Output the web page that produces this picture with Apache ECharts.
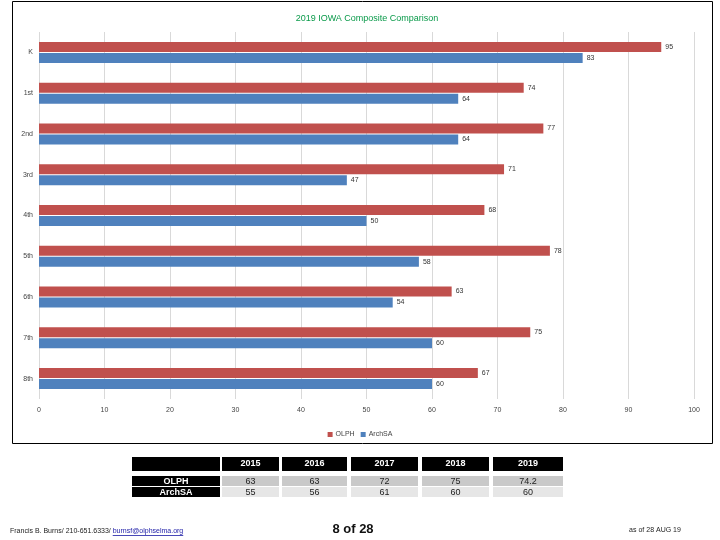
<!DOCTYPE html>
<html>
<head>
<meta charset="utf-8">
<script src="https://cdn.jsdelivr.net/npm/echarts@6/dist/echarts.min.js"></script>
<style>
html,body{margin:0;padding:0;background:#fff;}
#chart{width:720px;height:540px;}
</style>
</head>
<body>
<div id="chart"></div>
<script>
var categories = ['K', '1st', '2nd', '3rd', '4th', '5th', '6th', '7th', '8th'];
var olph = [95, 74, 77, 71, 68, 78, 63, 75, 67];
var archsa = [83, 64, 64, 47, 50, 58, 54, 60, 60];
var xTicks = [0, 10, 20, 30, 40, 50, 60, 70, 80, 90, 100];

var tableYears = ['2015', '2016', '2017', '2018', '2019'];
var tableOlph = ['63', '63', '72', '75', '74.2'];
var tableArch = ['55', '56', '61', '60', '60'];

var FONT = '"Liberation Sans", "DejaVu Sans", sans-serif';
var RED = '#c0504d', BLUE = '#4f81bd';

var chart = echarts.init(document.getElementById('chart'), null, {renderer: 'canvas'});

function textW(t, font) {
  var c = document.createElement('canvas').getContext('2d');
  c.font = font;
  return c.measureText(t).width;
}

var g = [];
g.push({type: 'rect', shape: {x: 12.5, y: 1.5, width: 700, height: 442}, style: {fill: 'none', stroke: '#000', lineWidth: 1}, z: 0});
var colX = [222, 282, 351, 422, 493];
var colW = [57, 65, 67, 67, 70];
g.push({type: 'rect', shape: {x: 132, y: 457, width: 88, height: 14}, style: {fill: '#000'}});
for (var i = 0; i < tableYears.length; i++) {
  g.push({type: 'rect', shape: {x: colX[i], y: 457, width: colW[i], height: 14}, style: {fill: '#000'}});
  g.push({type: 'text', x: colX[i] + colW[i] / 2, y: 464, style: {text: tableYears[i], fill: '#fff', font: 'bold 9px ' + FONT, align: 'center', verticalAlign: 'middle'}});
  g.push({type: 'rect', shape: {x: colX[i], y: 476, width: colW[i], height: 10}, style: {fill: '#c9c9c9'}});
  g.push({type: 'text', x: colX[i] + colW[i] / 2, y: 481.5, style: {text: tableOlph[i], fill: '#222', font: '9px ' + FONT, align: 'center', verticalAlign: 'middle'}});
  g.push({type: 'rect', shape: {x: colX[i], y: 487, width: colW[i], height: 10}, style: {fill: '#e6e6e6'}});
  g.push({type: 'text', x: colX[i] + colW[i] / 2, y: 492.5, style: {text: tableArch[i], fill: '#222', font: '9px ' + FONT, align: 'center', verticalAlign: 'middle'}});
}
g.push({type: 'rect', shape: {x: 132, y: 476, width: 88, height: 10}, style: {fill: '#000'}});
g.push({type: 'text', x: 176, y: 481.5, style: {text: 'OLPH', fill: '#fff', font: 'bold 9px ' + FONT, align: 'center', verticalAlign: 'middle'}});
g.push({type: 'rect', shape: {x: 132, y: 487, width: 88, height: 10}, style: {fill: '#000'}});
g.push({type: 'text', x: 176, y: 492.5, style: {text: 'ArchSA', fill: '#fff', font: 'bold 9px ' + FONT, align: 'center', verticalAlign: 'middle'}});

// footer
var footFont = '7px ' + FONT;
var part1 = 'Francis B. Burns/ 210-651.6333/ ';
var email = 'burnsf@olphselma.org';
var w1 = textW(part1, footFont);
var w2 = textW(email, footFont);
g.push({type: 'text', x: 10, y: 531, style: {text: part1, fill: '#222', font: footFont, align: 'left', verticalAlign: 'middle'}});
g.push({type: 'text', x: 10 + w1, y: 531, style: {text: email, fill: '#1a1aa6', font: footFont, align: 'left', verticalAlign: 'middle'}});
g.push({type: 'line', shape: {x1: 10 + w1, y1: 535.5, x2: 10 + w1 + w2, y2: 535.5}, style: {stroke: '#1a1aa6', lineWidth: 0.8}});
g.push({type: 'text', x: 353, y: 529, style: {text: '8 of 28', fill: '#111', font: 'bold 13px "Liberation Sans Narrow", ' + FONT, align: 'center', verticalAlign: 'middle'}});
g.push({type: 'text', x: 655, y: 530, style: {text: 'as of 28 AUG 19', fill: '#222', font: '7px ' + FONT, align: 'center', verticalAlign: 'middle'}});

var labelStyle = {show: true, position: 'right', distance: 4, color: '#333', fontSize: 7, fontFamily: FONT};

chart.setOption({
  animation: false,
  title: {
    text: '2019 IOWA Composite Comparison',
    left: 362, top: 9, textAlign: 'center',
    textStyle: {color: '#0a9a4a', fontSize: 9, fontWeight: 'normal', fontFamily: FONT}
  },
  legend: {
    data: ['OLPH', 'ArchSA'],
    left: 'center', top: 426,
    itemWidth: 5, itemHeight: 5, itemGap: 6,
    icon: 'rect',
    textStyle: {color: '#444', fontSize: 7, fontFamily: FONT, padding: [0, 0, 0, -2]}
  },
  grid: {left: 39, right: 26, top: 32, bottom: 141, containLabel: false},
  xAxis: {
    type: 'value', min: 0, max: 100, interval: 10,
    axisLine: {show: false}, axisTick: {show: false},
    splitLine: {show: true, lineStyle: {color: '#d9d9d9', width: 1}},
    axisLabel: {color: '#444', fontSize: 7, fontFamily: FONT, margin: 8,
      formatter: function (v) { return xTicks.indexOf(v) >= 0 ? String(v) : ''; }}
  },
  yAxis: {
    type: 'category', data: categories, inverse: true,
    axisLine: {show: false}, axisTick: {show: false},
    axisLabel: {color: '#444', fontSize: 7, fontFamily: FONT, margin: 6}
  },
  series: [
    {name: 'OLPH', type: 'bar', data: olph, itemStyle: {color: RED}, barWidth: 10, barGap: '10%', label: labelStyle},
    {name: 'ArchSA', type: 'bar', data: archsa, itemStyle: {color: BLUE}, barWidth: 10, label: labelStyle}
  ],
  graphic: g
});
</script>
</body>
</html>
